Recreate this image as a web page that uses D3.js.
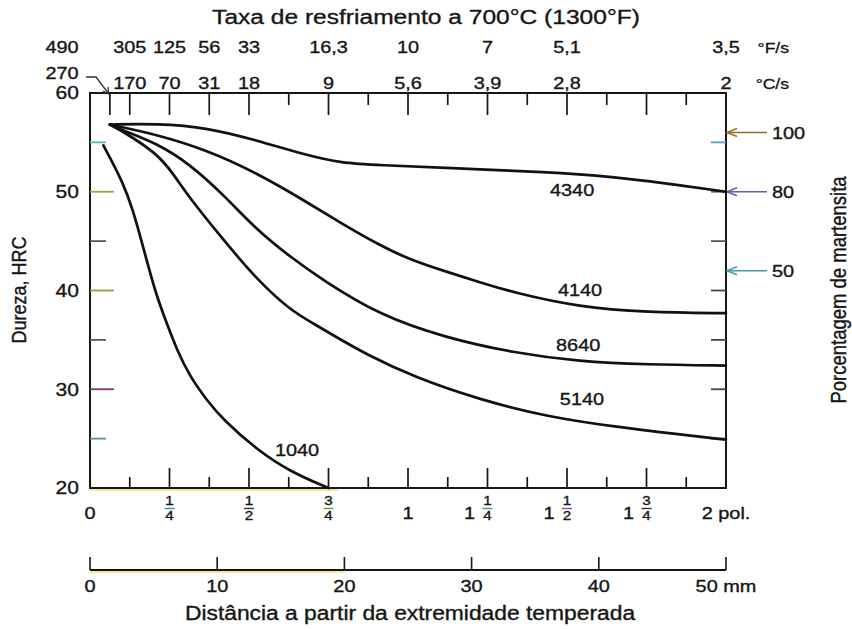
<!DOCTYPE html>
<html>
<head>
<meta charset="utf-8">
<script src="https://cdn.jsdelivr.net/npm/d3@7/dist/d3.min.js"></script>
<style>
  html, body { margin: 0; padding: 0; background: #fff; }
  svg { display: block; }
  text { font-family: "Liberation Sans", Arial, Helvetica, sans-serif; fill: #161616;
         stroke: #161616; stroke-width: 0.35px; }
</style>
</head>
<body>
<svg id="chart" width="852" height="629"></svg>
<script>
// Jominy end-quench hardenability curves (hardness vs. distance from quenched end)

// distance from quenched end (inches) and hardness (HRC) for each steel
const d4340 = [0.0625, 0.21, 0.37, 0.525, 0.68, 0.79, 0.91, 1.12, 1.44, 1.65, 1.80, 2.0];
const h4340 = [56.8, 56.9, 56.5, 55.2, 53.7, 52.9, 52.7, 52.4, 52.0, 51.5, 50.9, 50.0];

const d4140 = [0.0625, 0.21, 0.37, 0.525, 0.68, 0.79, 0.91, 1.0, 1.12, 1.23, 1.33, 1.54, 1.75, 2.0];
const h4140 = [56.8, 55.8, 54.2, 51.9, 49.0, 46.8, 44.6, 43.2, 41.9, 40.8, 39.8, 38.3, 37.8, 37.7];

const d8640 = [0.0625, 0.104, 0.21, 0.31, 0.42, 0.525, 0.63, 0.73, 0.91, 1.12, 1.33, 1.54, 1.75, 2.0];
const h8640 = [56.8, 56.2, 54.9, 52.9, 49.7, 46.1, 43.4, 41.1, 37.5, 35.2, 33.7, 32.8, 32.5, 32.4];

const d5140 = [0.0625, 0.104, 0.21, 0.26, 0.31, 0.42, 0.525, 0.63, 0.70, 0.79, 0.86, 1.02, 1.23, 1.44, 1.65, 1.86, 2.0];
const h5140 = [56.8, 56.1, 53.9, 51.9, 49.5, 45.1, 41.1, 38.0, 36.7, 35.0, 33.7, 31.2, 28.9, 27.2, 26.2, 25.4, 24.9];

const d1040 = [0.042, 0.105, 0.136, 0.157, 0.183, 0.21, 0.241, 0.273, 0.314, 0.367, 0.419, 0.524, 0.629, 0.75];
const h1040 = [54.7, 50.9, 48.0, 45.6, 42.5, 39.4, 36.7, 34.0, 31.3, 28.9, 26.9, 23.9, 21.65, 20.0];

const steels = ["4340", "4140", "8640", "5140", "1040"];
// where each steel's name sits, in (inches, HRC)
const labelDist = [1.516, 1.541, 1.535, 1.547, 0.651];
const labelHRC  = [50.2, 40.1, 34.5, 29.0, 23.9];

// cooling rates at 700 °C read along the top, and the distances they belong to
const rateF = ["490", "305", "125", "56", "33", "16,3", "10", "7", "5,1", "3,5"];
const rateC = ["270", "170", "70", "31", "18", "9", "5,6", "3,9", "2,8", "2"];
const rateDist = [0.0625, 0.125, 0.25, 0.375, 0.5, 0.75, 1, 1.25, 1.5, 2];

// hardness scale
const hrcTicks = [20, 30, 40, 50, 60];
const hrcInner = [25, 30, 35, 40, 45, 50, 55];

// martensite percentage marks on the right side
const martPct = ["100", "80", "50"];
const martHRC = [56, 50, 42];

// inch labels on the bottom axis: whole part, numerator, denominator
const inchVal   = [0, 0.25, 0.5, 0.75, 1, 1.25, 1.5, 1.75, 2];
const inchWhole = ["0", "", "", "", "1", "1", "1", "1", "2 pol."];
const inchNum   = ["", "1", "1", "3", "", "1", "1", "3", ""];
const inchDen   = ["", "4", "2", "4", "", "4", "2", "4", ""];

// millimetre scale
const mmTicks = [0, 10, 20, 30, 40, 50];

// ---------------------------------------------------------------
const svg = d3.select("#chart");
const SX = 1.17;               // type is set slightly wide
const INK = "#161616";

const x  = d3.scaleLinear().domain([0, 2]).range([90, 726]);
const y  = d3.scaleLinear().domain([20, 60]).range([488, 93]);
const mm = d3.scaleLinear().domain([0, 50]).range([90, 726]);

function label(g, px, py, str, opt = {}) {
  const t = g.append("text")
    .attr("transform", `translate(${px},${py}) scale(${SX},1)`)
    .attr("text-anchor", opt.anchor || "middle")
    .style("font-size", (opt.size || 17) + "px")
    .text(str);
  if (opt.dy) t.attr("dy", opt.dy);
  if (opt.fill) t.style("fill", opt.fill);
  return t;
}

const g = svg.append("g");

// ---- faint tints along the base lines (scan colour fringes)
g.append("line").attr("x1", x(0)).attr("x2", x(0.78)).attr("y1", y(20) + 2).attr("y2", y(20) + 2)
  .attr("stroke", "#efe08a").attr("stroke-width", 1.6);
g.append("line").attr("x1", mm(0)).attr("x2", mm(20)).attr("y1", 572).attr("y2", 572)
  .attr("stroke", "#efe08a").attr("stroke-width", 1.6);

// ---- plot frame
g.append("rect")
  .attr("x", x(0)).attr("y", y(60))
  .attr("width", x(2) - x(0)).attr("height", y(20) - y(60))
  .attr("fill", "none").attr("stroke", INK).attr("stroke-width", 2);

// ---- left ticks (inside)
const leftTickColor = {55: "#5fb4c4", 50: "#a4a23c", 45: "#555", 40: "#94a034", 35: "#555", 30: "#7a3a78", 25: "#5a9686"};
hrcInner.forEach(v => {
  const long = v % 10 === 0;
  g.append("line")
    .attr("x1", x(0)).attr("x2", x(0) + (long ? 24 : 16))
    .attr("y1", y(v)).attr("y2", y(v))
    .attr("stroke", leftTickColor[v]).attr("stroke-width", 1.8);
});

// ---- right ticks (inside)
const rightTickColor = {55: "#4aa0c4", 50: "#6a5aa8", 45: "#555", 40: "#444", 35: "#444", 30: "#444", 25: "#444"};
hrcInner.forEach(v => {
  g.append("line")
    .attr("x1", x(2) - 15).attr("x2", x(2))
    .attr("y1", y(v)).attr("y2", y(v))
    .attr("stroke", rightTickColor[v]).attr("stroke-width", 1.8);
});

// ---- top ticks (hang down from the top edge)
const topLong = [0.0625, 0.125, 0.25, 0.375, 0.5, 0.75, 1, 1.25, 1.5, 1.75];
const topShort = [0.625, 0.875, 1.125, 1.375, 1.625, 1.875];
topLong.forEach(v => g.append("line").attr("x1", x(v)).attr("x2", x(v))
  .attr("y1", y(60)).attr("y2", y(60) + 22).attr("stroke", INK).attr("stroke-width", 1.7));
topShort.forEach(v => g.append("line").attr("x1", x(v)).attr("x2", x(v))
  .attr("y1", y(60)).attr("y2", y(60) + 12).attr("stroke", INK).attr("stroke-width", 1.7));

// ---- bottom ticks (rise from the base line)
d3.range(1, 16).forEach(i => {
  const v = i / 8;
  const long = i % 2 === 0;
  g.append("line").attr("x1", x(v)).attr("x2", x(v))
    .attr("y1", y(20)).attr("y2", y(20) - (long ? 20 : 11))
    .attr("stroke", INK).attr("stroke-width", 1.7);
});

// ---- hardness labels
hrcTicks.forEach(v => label(g, 79, y(v), String(v), {anchor: "end", dy: "0.36em", size: 18}));

// ---- axis titles (both read bottom to top)
g.append("text")
  .attr("transform", `translate(26,290) rotate(-90) scale(1,${SX})`)
  .attr("text-anchor", "middle").style("font-size", "18px")
  .text("Dureza, HRC");
g.append("text")
  .attr("transform", `translate(846,290) rotate(-90) scale(1,${SX})`)
  .attr("text-anchor", "middle").style("font-size", "18.5px")
  .text("Porcentagem de martensita");

label(g, 426, 24, "Taxa de resfriamento a 700°C (1300°F)", {size: 21});
label(g, 410, 620, "Distância a partir da extremidade temperada", {size: 19.5});

// ---- cooling-rate rows
rateDist.forEach((d, i) => {
  const px = i === 0 ? 62 : x(d);
  label(g, px, 53, rateF[i]);
  label(g, px, i === 0 ? 79 : 89, rateC[i]);
});
label(g, 789, 53, "°F/s", {anchor: "end", size: 15});
label(g, 789, 89, "°C/s", {anchor: "end", size: 15});

// arrow from the 270 °C/s value down to its tick
const tip = x(rateDist[0]);
g.append("path")
  .attr("d", `M86,77 H96 L${tip - 1},${y(60) + 1}`)
  .attr("fill", "none").attr("stroke", "#333").attr("stroke-width", 1.3);
g.append("path")
  .attr("d", `M${tip - 7},${y(60) - 2} L${tip - 1},${y(60) + 1} L${tip - 2},${y(60) - 6}`)
  .attr("fill", "none").attr("stroke", "#333").attr("stroke-width", 1.3);

// ---- inch labels
const barColor = ["", "#2f8fa0", "#333", "#5e9a2e", "", "#3a9a70", "#8a4aa0", "#333", ""];
inchVal.forEach((v, i) => {
  const px = x(v);
  if (inchNum[i]) {
    if (inchWhole[i]) label(g, px - 18, 519, inchWhole[i]);
    label(g, px, 505, inchNum[i], {size: 13});
    g.append("line").attr("x1", px - 5).attr("x2", px + 5)
      .attr("y1", 508.5).attr("y2", 508.5)
      .attr("stroke", barColor[i]).attr("stroke-width", 1.4);
    label(g, px, 520, inchDen[i], {size: 13});
  } else {
    label(g, px, 519, inchWhole[i]);
  }
});

// ---- millimetre scale
g.append("line").attr("x1", mm(0)).attr("x2", mm(50)).attr("y1", 570).attr("y2", 570)
  .attr("stroke", INK).attr("stroke-width", 2);
mmTicks.forEach(v => {
  g.append("line").attr("x1", mm(v)).attr("x2", mm(v)).attr("y1", 570).attr("y2", 557)
    .attr("stroke", INK).attr("stroke-width", 1.6);
  label(g, mm(v), 592, v === 50 ? "50 mm" : String(v));
});

// ---- martensite arrows on the right
const arrowColor = ["#9a6e2a", "#6a5aa8", "#4a9aa4"];
martHRC.forEach((h, i) => {
  const py = y(h), x0 = x(2) + 1;
  g.append("line").attr("x1", x0).attr("x2", 767).attr("y1", py).attr("y2", py)
    .attr("stroke", arrowColor[i]).attr("stroke-width", 1.4);
  g.append("path")
    .attr("d", `M${x0 + 10},${py - 4} L${x0},${py} L${x0 + 10},${py + 4}`)
    .attr("fill", "none").attr("stroke", arrowColor[i]).attr("stroke-width", 1.4);
  label(g, 772, py, martPct[i], {anchor: "start", dy: "0.36em"});
});

// ---- hardenability curves
const series = [
  [d4340, h4340], [d4140, h4140], [d8640, h8640], [d5140, h5140], [d1040, h1040]
];
const line = d3.line().x(p => x(p[0])).y(p => y(p[1])).curve(d3.curveBasis);
series.forEach(([ds, hs]) => {
  g.append("path")
    .attr("d", line(ds.map((d, i) => [d, hs[i]])))
    .attr("fill", "none").attr("stroke", "#111")
    .attr("stroke-width", 2.7).attr("stroke-linejoin", "round").attr("stroke-linecap", "round");
});

steels.forEach((s, i) => label(g, x(labelDist[i]), y(labelHRC[i]), s, {dy: "0.36em"}));
</script>
</body>
</html>
